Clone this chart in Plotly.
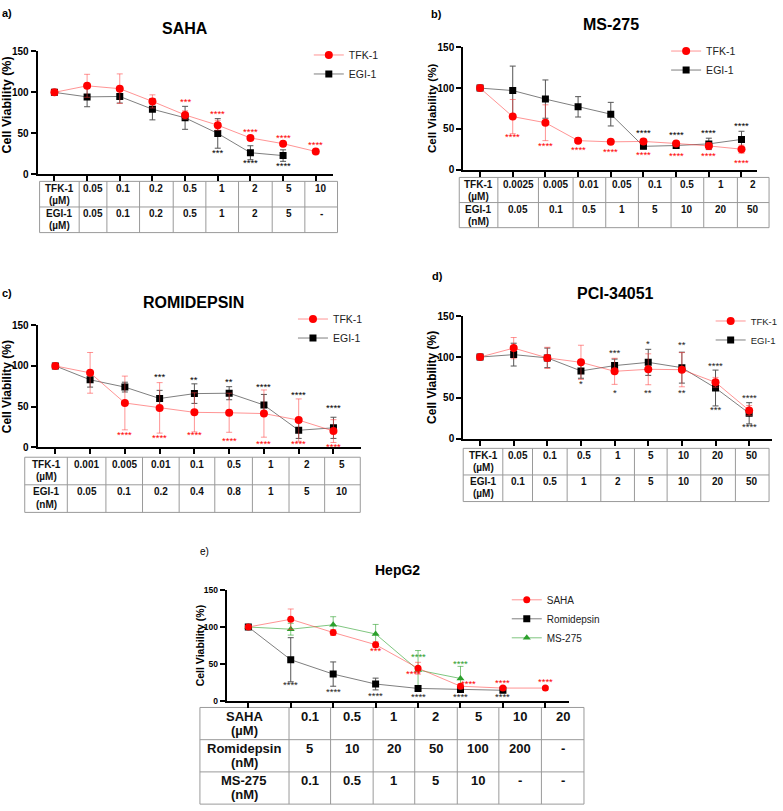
import plotly.graph_objects as go

W, H = 783, 811
FONT = "Liberation Sans, Arial, Helvetica, sans-serif"
RED = "#ff0000"
RED_L = "rgba(255,60,60,0.55)"
GRAY_L = "#7f7f7f"
GREEN = "#2ca02c"
GREEN_L = "rgba(44,160,44,0.6)"

# ---------------- data ----------------
# a) SAHA
a_tfk = [100, 108, 104.5, 89, 72.5, 60, 44.5, 37.5, 28]
a_tfk_sd = [0, 14, 18, 8, 5, 6, 2.5, 2.5, 1.5]
a_egi = [100, 94.5, 95, 79.5, 69, 50, 26.5, 23]
a_egi_sd = [0, 12, 8, 13, 14, 18, 8.5, 7]
a_tfk_conc = ["0.05", "0.1", "0.2", "0.5", "1", "2", "5", "10"]
a_egi_conc = ["0.05", "0.1", "0.2", "0.5", "1", "2", "5", "-"]
a_sig_tfk = [(4, "***", 89), (5, "****", 74), (6, "****", 52), (7, "****", 45.5), (8, "****", 36)]
a_sig_egi = [(5, "***", 26.5), (6, "****", 14.5), (7, "****", 11)]

# b) MS-275
b_tfk = [100, 65, 57.5, 35.5, 34, 34.5, 32, 29, 25]
b_tfk_sd = [0, 21, 22, 3, 2, 3, 2.5, 4, 5]
b_egi = [100, 97, 86.5, 77, 68, 28.5, 29.5, 31.5, 37]
b_egi_sd = [0, 30, 23.5, 12.5, 14.5, 3, 3, 7, 10]
b_tfk_conc = ["0.0025", "0.005", "0.01", "0.05", "0.1", "0.5", "1", "2"]
b_egi_conc = ["0.05", "0.1", "0.5", "1", "5", "10", "20", "50"]
b_sig_tfk = [(1, "****", 40), (2, "****", 29), (3, "****", 25), (4, "****", 22),
             (5, "****", 19), (6, "****", 17), (7, "****", 17), (8, "****", 9)]
b_sig_egi = [(5, "****", 46), (6, "****", 43), (7, "****", 45), (8, "****", 54)]

# c) ROMIDEPSIN
c_tfk = [100, 91.5, 54.5, 48.5, 43, 42.5, 41.5, 33.5, 20]
c_tfk_sd = [0, 25, 33, 31, 24, 24, 29, 26, 14]
c_egi = [100, 83, 74, 60, 66, 66.5, 52, 21, 24]
c_egi_sd = [0, 9, 6, 10, 12, 8, 13, 10, 13]
c_tfk_conc = ["0.001", "0.005", "0.01", "0.1", "0.5", "1", "2", "5"]
c_egi_conc = ["0.05", "0.1", "0.2", "0.4", "0.8", "1", "5", "10"]
c_sig_tfk = [(2, "****", 15.5), (3, "****", 12.5), (4, "****", 15.5), (5, "****", 8.5),
             (6, "****", 5), (7, "****", 4.5), (8, "****", 1.5)]
c_sig_egi = [(3, "***", 86.5), (4, "**", 83.5), (5, "**", 80.5), (6, "****", 74.5),
             (7, "****", 65.5), (8, "****", 48.5)]

# d) PCI-34051
d_tfk = [100, 111, 99, 93.5, 82.5, 85, 84.5, 69, 34.5]
d_tfk_sd = [0, 13, 13, 21, 16, 19, 21, 6, 6]
d_egi = [100, 103, 99, 83, 89.5, 93.5, 87, 62, 31]
d_egi_sd = [0, 14, 12, 9, 8, 16, 19, 22, 13]
d_tfk_conc = ["0.05", "0.1", "0.5", "1", "5", "10", "20", "50"]
d_egi_conc = ["0.1", "0.5", "1", "2", "5", "10", "20", "50"]
d_sig_tfk = [(3, "*", 67), (4, "*", 56), (5, "**", 56), (6, "**", 56), (7, "***", 36), (8, "****", 15)]
d_sig_egi = [(4, "***", 105), (5, "*", 117), (6, "**", 115), (7, "****", 90), (8, "****", 50)]

# e) HepG2
e_saha = [100, 110.5, 92.5, 76, 44, 19.5, 17, 17]
e_saha_sd = [0, 14, 4, 4, 8, 3, 2, 2]
e_romi = [100, 55.5, 36, 22.5, 16.5, 15, 14]
e_romi_sd = [0, 30, 16.5, 8, 4, 3, 3]
e_ms = [100, 97, 103, 90.5, 41.5, 30]
e_ms_sd = [0, 8, 11, 13, 26.5, 16.5]
e_saha_conc = ["0.1", "0.5", "1", "2", "5", "10", "20"]
e_romi_conc = ["5", "10", "20", "50", "100", "200", "-"]
e_ms_conc = ["0.1", "0.5", "1", "5", "10", "-", "-"]
e_sig_saha = [(3, "***", 67.5), (3.9, "****", 36.5), (5.2, "****", 23), (6, "****", 24), (7, "****", 26)]
e_sig_romi = [(1, "****", 22), (2, "****", 13), (3, "****", 7), (4, "****", 5), (5, "****", 6), (6, "****", 6)]
e_sig_ms = [(4, "****", 60.5), (5, "****", 51)]

fig = go.Figure()


def xp(p):
    return p / W


def yp(p):
    return 1 - p / H


def sfx(i):
    return "" if i == 1 else str(i)


def add_axes(i, box, xr, n, tickfs):
    x0, x1, ytop, ybot = box
    common = dict(showline=True, linecolor="black", linewidth=2, ticks="outside",
                  tickwidth=2, ticklen=5, tickcolor="black", showgrid=False, zeroline=False)
    fig.update_layout(**{
        "xaxis" + sfx(i): dict(domain=[xp(x0), xp(x1)], anchor="y" + sfx(i), range=xr,
                              tickvals=list(range(n)), showticklabels=False, **common),
        "yaxis" + sfx(i): dict(domain=[yp(ybot), yp(ytop)], anchor="x" + sfx(i), range=[0, 150],
                              tickvals=[0, 50, 100, 150],
                              tickfont=dict(family=FONT, size=tickfs, color="black", weight="bold"),
                              **common),
    })


def add_series(i, y, sd, name, color, lcolor, ecolor, symbol, size, rank):
    fig.add_trace(go.Scatter(
        x=list(range(len(y))), y=y, mode="lines+markers", name=name,
        xaxis="x" + sfx(i), yaxis="y" + sfx(i), legend="legend" + sfx(i), legendrank=rank,
        line=dict(color=lcolor, width=1),
        marker=dict(symbol=symbol, size=size, color=color),
        error_y=dict(type="data", array=sd, color=ecolor, thickness=1, width=3),
    ))


def add_sig(i, sig, color):
    for x, t, y in sig:
        fig.add_annotation(x=x, y=y, xref="x" + sfx(i), yref="y" + sfx(i), text=t, showarrow=False,
                           font=dict(family=FONT, size=9.5, color=color))


def add_table(x0, y0, colw, rowh, rows, fs, off1, off2):
    """Grid of cells (layout shapes) with bold text annotations."""
    edges = [x0]
    for w in colw:
        edges.append(edges[-1] + w)
    tops = [y0 + k * rowh for k in range(len(rows) + 1)]
    line = dict(color="#9a9a9a", width=1)
    fig.add_shape(type="rect", xref="paper", yref="paper", x0=xp(edges[0]), x1=xp(edges[-1]),
                  y0=yp(tops[-1]), y1=yp(tops[0]), line=line, layer="below")
    for e in edges[1:-1]:
        fig.add_shape(type="line", xref="paper", yref="paper", x0=xp(e), x1=xp(e),
                      y0=yp(tops[-1]), y1=yp(tops[0]), line=line)
    for t in tops[1:-1]:
        fig.add_shape(type="line", xref="paper", yref="paper", x0=xp(edges[0]), x1=xp(edges[-1]),
                      y0=yp(t), y1=yp(t), line=line)
    for r, row in enumerate(rows):
        for c, val in enumerate(row):
            for k, part in enumerate(val.split("\n")):
                fig.add_annotation(x=xp((edges[c] + edges[c + 1]) / 2),
                                   y=yp(tops[r] + (off1 if k == 0 else off2)),
                                   xref="paper", yref="paper", text="<b>%s</b>" % part, showarrow=False,
                                   xanchor="center", yanchor="middle", borderpad=0,
                                   font=dict(family=FONT, size=fs, color="#111"))


def text(x, y, t, size, bold=True, angle=0, anchor="center"):
    fig.add_annotation(x=xp(x), y=yp(y), xref="paper", yref="paper", text=("<b>%s</b>" % t) if bold else t,
                       showarrow=False, textangle=angle, xanchor=anchor, yanchor="middle",
                       font=dict(family=FONT, size=size, color="black"))


def legend(i, x, y, fs):
    fig.update_layout(**{"legend" + sfx(i): dict(
        x=xp(x), y=yp(y), xanchor="left", yanchor="top", bgcolor="rgba(0,0,0,0)",
        font=dict(family=FONT, size=fs, color="#222"), itemwidth=30, tracegroupgap=0)})


# ---- panel a ----
add_axes(1, (38, 336, 46, 171), [-0.515, 8.515], 9, 10)
add_series(1, a_egi, a_egi_sd, "EGI-1", "black", GRAY_L, "#555", "square", 7, 2)
add_series(1, a_tfk, a_tfk_sd, "TFK-1", RED, RED_L, RED_L, "circle", 8, 1)
add_sig(1, a_sig_tfk, RED)
add_sig(1, a_sig_egi, "black")
add_table(40, 178, [40, 28, 33, 34, 33, 33, 34, 33, 33], 26,
          [["TFK-1\n(µM)"] + a_tfk_conc, ["EGI-1\n(µM)"] + a_egi_conc], 10, 7, 19)
text(7, 100, "Cell Viability (%)", 12.5, angle=-90)
text(187, 23, "SAHA", 16)
text(0, 7, "a)", 11, anchor="left")
legend(1, 312, 35, 10.5)

# ---- panel b ----
add_axes(2, (468, 765, 42, 166), [-0.515, 8.48], 9, 10)
add_series(2, b_egi, b_egi_sd, "EGI-1", "black", GRAY_L, "#555", "square", 7, 2)
add_series(2, b_tfk, b_tfk_sd, "TFK-1", RED, RED_L, RED_L, "circle", 8, 1)
add_sig(2, b_sig_tfk, RED)
add_sig(2, b_sig_egi, "black")
add_table(464, 174, [39, 41, 35, 33, 33, 33, 33, 34, 32], 25.5,
          [["TFK-1\n(µM)"] + b_tfk_conc, ["EGI-1\n(nM)"] + b_egi_conc], 10, 7, 19)
text(437, 104, "Cell Viability (%)", 11.5, angle=-90)
text(617, 19, "MS-275", 16)
text(433, 8, "b)", 11, anchor="left")
legend(2, 673, 31, 10.5)

# ---- panel c ----
add_axes(3, (38, 365, 324, 448), [-0.51, 8.8], 9, 10)
add_series(3, c_egi, c_egi_sd, "EGI-1", "black", GRAY_L, "#555", "square", 7, 2)
add_series(3, c_tfk, c_tfk_sd, "TFK-1", RED, RED_L, RED_L, "circle", 8, 1)
add_sig(3, c_sig_tfk, RED)
add_sig(3, c_sig_egi, "black")
add_table(25, 458, [43, 39, 37, 37, 36, 38, 37, 36, 36], 28,
          [["TFK-1\n(µM)"] + c_tfk_conc, ["EGI-1\n(nM)"] + c_egi_conc], 10, 7, 20)
text(7, 386, "Cell Viability (%)", 12, angle=-90)
text(196, 301, "ROMIDEPSIN", 16)
text(0, 291, "c)", 11, anchor="left")
legend(3, 296, 303, 10.5)

# ---- panel d ----
add_axes(4, (468, 780, 315, 439), [-0.5, 8.68], 9, 10)
add_series(4, d_egi, d_egi_sd, "EGI-1", "black", GRAY_L, "#555", "square", 7, 2)
add_series(4, d_tfk, d_tfk_sd, "TFK-1", RED, RED_L, RED_L, "circle", 8, 1)
add_sig(4, d_sig_tfk, "#222")
add_sig(4, d_sig_egi, "#222")
add_table(468, 449, [40, 30, 35, 34, 34, 33, 34, 35, 34], 27,
          [["TFK-1\n(µM)"] + d_tfk_conc, ["EGI-1\n(µM)"] + d_egi_conc], 10, 7, 19)
text(437, 377, "Cell Viability (%)", 12, angle=-90)
text(622, 292, "PCI-34051", 16)
text(434, 274, "d)", 11, anchor="left")
legend(4, 718, 305, 9.5)

# ---- panel e ----
add_axes(5, (229, 575, 593, 705), [-0.51, 7.56], 8, 8.5)
add_series(5, e_ms, e_ms_sd, "MS-275", GREEN, GREEN_L, GREEN_L, "triangle-up", 7, 3)
add_series(5, e_romi, e_romi_sd, "Romidepsin", "black", GRAY_L, "#555", "square", 7, 2)
add_series(5, e_saha, e_saha_sd, "SAHA", RED, RED_L, RED_L, "circle", 7, 1)
add_sig(5, e_sig_romi, "#222")
add_sig(5, e_sig_saha, RED)
add_sig(5, e_sig_ms, GREEN)
add_table(202, 712, [90, 42, 43, 42, 43, 42, 43, 43], 32.7,
          [["SAHA\n(µM)"] + e_saha_conc, ["Romidepsin\n(nM)"] + e_romi_conc,
           ["MS-275\n(nM)"] + e_ms_conc], 13, 9, 23)
text(202, 649, "Cell Viability (%)", 10.5, angle=-90)
text(402, 572, "HepG2", 14)
text(207, 554, "e)", 10, bold=False)
legend(5, 512, 588, 10)

fig.update_layout(width=W, height=H, margin=dict(l=0, r=0, t=0, b=0),
                  paper_bgcolor="white", plot_bgcolor="white",
                  font=dict(family=FONT, color="black"))

# remove the browser's default 8px body margin so the figure sits at the page origin
fig.write_html("out.html", config={"displayModeBar": False},
               post_script="document.body.style.margin='0';")
